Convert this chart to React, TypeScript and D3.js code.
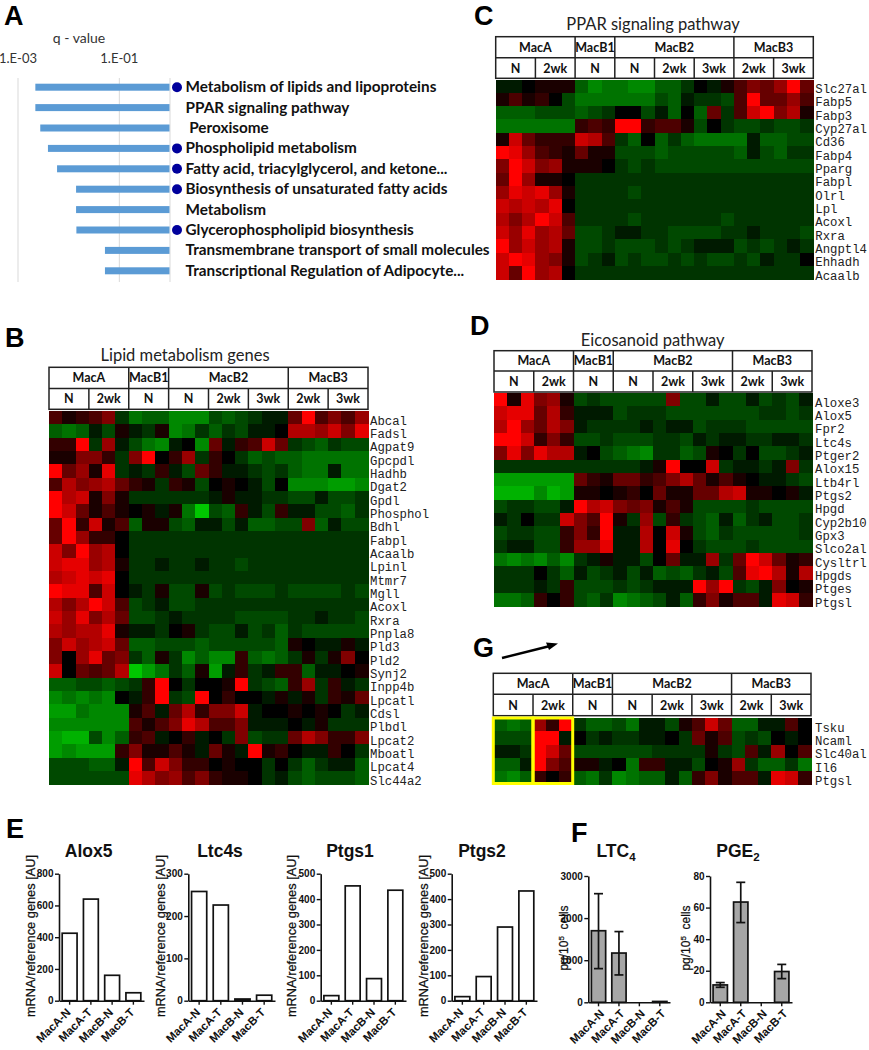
// App.tsx
import React, { useEffect, useRef } from 'react';
import * as d3 from 'd3';

// Panel A
const pathways = [
  'Metabolism of lipids and lipoproteins', 'PPAR signaling pathway', ' Peroxisome',
  'Phospholipid metabolism', 'Fatty acid, triacylglycerol, and ketone...',
  'Biosynthesis of unsaturated fatty acids', 'Metabolism', 'Glycerophospholipid biosynthesis',
  'Transmembrane transport of small molecules', 'Transcriptional Regulation of Adipocyte...',
];
const qValues = [0.0022, 0.0022, 0.00275, 0.0039, 0.0059, 0.014, 0.014, 0.0142, 0.052, 0.052];
const hasDot = [true, false, false, true, true, true, false, true, false, false];

// Heatmap headers
const groupLabels = ['MacA', 'MacB1', 'MacB2', 'MacB3'];
const groupSpans = [6, 3, 9, 6];
const subLabels = ['N', '2wk', 'N', 'N', '2wk', '3wk', '2wk', '3wk'];

// Panel B, log ratios on a -10..10 scale
const lipidGenes = ['Abcal', 'Fadsl', 'Agpat9', 'Gpcpdl', 'Hadhb', 'Dgat2', 'Gpdl', 'Phosphol', 'Bdhl', 'Fabpl', 'Acaalb', 'Lpinl', 'Mtmr7', 'Mgll', 'Acoxl', 'Rxra', 'Pnpla8', 'Pld3', 'Pld2', 'Synj2', 'Inpp4b', 'Lpcatl', 'Cdsl', 'Plbdl', 'Lpcat2', 'Mboatl', 'Lpcat4', 'Slc44a2'];
const lipidValues = [
  [3, 1, 2, 3, 5, -2, -5, -4, -4, -6, -6, -6, -3, -4, -3, -2, -1, -1, 4, 10, 3, 5, 3, 6],
  [-4, -5, -4, -1, -3, 1, -1, -2, 1, -6, -5, -2, -4, -2, -3, -1, -1, 0, 7, 7, 6, 8, 5, 9],
  [2, 2, 10, -2, 6, -1, -3, -5, -6, -1, 0, -6, 4, -1, 2, 3, 8, 4, -2, -3, -4, -2, -3, -3],
  [1, 1, 5, 5, 2, -2, 5, 10, 0, 2, 6, -2, 2, 0, -2, -4, -3, -4, -4, -5, -5, -5, -5, -5],
  [10, 4, 6, 1, 9, -2, -1, -2, 2, -1, -3, 4, 2, -1, -1, -2, -3, -2, -4, -5, -5, -1, -5, -5],
  [3, 7, 5, 6, 7, 4, 2, 1, -2, 2, 1, -3, 0, 1, 0, -1, -3, 0, -6, -6, -6, -7, -7, -6],
  [10, 7, 8, 1, 5, 1, -2, -2, -2, -2, -2, -2, -1, 1, -1, -1, -2, -2, -3, -3, -1, -3, -3, -2],
  [10, 8, 4, 1, 3, 1, 0, 1, -1, 1, -5, -9, -3, -4, 2, -1, -3, 2, -1, -1, -3, -3, -4, -2],
  [4, 10, 2, 8, 1, 3, -4, 1, 1, -3, -4, -1, -1, -3, -1, -4, -4, -3, -3, 5, -4, -1, -3, -3],
  [4, 10, 6, 2, 2, 0, -2, -2, -2, -2, -2, -2, -2, -2, -2, -2, -2, -2, -2, -2, -2, -2, -2, -2],
  [8, 5, 10, 6, 7, 0, -2, -2, -2, -2, -2, -2, -2, -2, -2, -2, -2, -2, -2, -2, -2, -2, -2, -2],
  [8, 9, 9, 6, 7, 1, -2, -2, -1, -2, -2, -1, -2, -2, -3, -2, -2, -2, -2, -2, -2, -2, -2, -2],
  [7, 8, 9, 8, 9, 0, -2, -2, -2, -2, -2, -2, -2, -2, -2, -2, -2, -2, -2, -2, -2, -2, -2, -2],
  [10, 9, 9, 3, 8, 0, -1, -2, 1, -3, -3, 1, -3, -2, -3, -3, -3, -2, -3, -3, -3, -3, -2, -3],
  [7, 5, 7, 10, 8, 3, -3, -2, -1, -3, -3, -2, -2, -2, -2, -2, -2, -2, -2, -2, -2, -2, -2, -2],
  [8, 6, 9, 5, 7, 4, -3, -3, -2, -1, -2, -2, -2, -2, -3, -3, -3, -3, -2, -2, -1, -2, -2, -3],
  [7, 6, 7, 7, 9, 1, -1, -1, -2, 0, 1, -2, -3, -3, -1, -3, -2, -4, -2, -3, -3, -3, -3, -3],
  [5, 8, 6, 7, 8, 4, -4, -4, -3, -3, -3, -4, -3, -3, -3, -3, -3, -4, 1, 0, -1, -1, 1, -1],
  [5, 0, 6, 9, 4, 5, -2, -4, 1, -2, -6, -4, -6, -6, 2, -4, -5, -4, -2, 1, -2, 1, 5, 0],
  [8, 0, 4, 3, 4, 7, -9, -7, -5, -2, -4, 1, -7, -1, 2, -2, -1, 2, 2, -4, -1, -1, 0, 1],
  [-4, -4, -3, -3, -4, -3, -2, 2, 10, 0, -2, 0, 0, 1, 10, -2, -3, -4, 2, 6, -2, 2, -1, -2],
  [-6, -5, -6, -5, -6, 0, -1, 2, 10, -2, -3, 10, 0, 2, 0, 0, -1, 1, -1, 1, -2, 2, 1, 4],
  [-7, -7, -5, -6, -6, -6, 1, 3, -1, 4, 7, 2, 5, 5, 8, -1, 0, 0, 1, 0, 1, 0, -2, -1],
  [-6, -6, -6, -6, -6, -6, 3, 1, 3, 5, 9, 7, 3, 3, 5, -1, -1, -1, 0, -1, 1, -2, -2, -2],
  [-7, -8, -8, -3, -6, -4, 2, 3, -1, 0, 2, -1, 0, -2, 5, -3, -2, -2, 4, 7, 5, 2, 2, 5],
  [-7, -6, -7, -7, -7, 2, 5, 1, 1, 3, 1, -1, 4, 1, -1, 10, 1, 2, 0, -1, -1, 2, 0, -2],
  [-3, -3, -3, -4, -4, -1, 10, 3, 8, 5, 2, 2, 0, 1, 0, 0, -2, 0, -2, -4, -2, -1, -1, -4],
  [-3, -3, -3, -3, -3, -3, 9, 7, 5, 6, 3, 5, 2, 1, 1, 0, -2, -1, -3, -4, -3, -3, -3, -4],
];

// Panel C
const pparGenes = ['Slc27al', 'Fabp5', 'Fabp3', 'Cyp27al', 'Cd36', 'Fabp4', 'Pparg', 'Fabpl', 'Olrl', 'Lpl', 'Acoxl', 'Rxra', 'Angptl4', 'Ehhadh', 'Acaalb'];
const pparValues = [
  [-1, -1, 0, 1, 1, 1, -4, -6, -5, -5, -6, -6, -4, -4, -2, 0, -1, 1, 3, 5, 4, 6, 10, 4],
  [1, 3, 1, 2, 0, -3, -5, -5, -5, -5, -5, -5, -3, -4, -1, -2, -2, -3, 3, 10, 4, 4, 6, 3],
  [-4, -4, -4, -3, -3, -3, -4, -3, -2, 0, 0, -3, -1, -4, 0, -4, 4, -2, 3, 8, 10, 5, 7, 1],
  [-5, -5, -5, -5, -5, -5, 2, 3, 2, 10, 10, 2, 3, 3, 1, -3, 0, -2, -3, -3, -2, -3, -3, -2],
  [1, 8, 4, 2, 2, 2, 8, 7, 3, -2, -4, 0, -4, -2, -4, -5, -5, -5, -5, -1, -4, -4, -3, -3],
  [10, 9, 6, 3, 2, 1, 4, 1, 1, -3, -3, -3, -4, -3, -3, -3, -3, -3, -4, -1, -3, -4, -2, -2],
  [5, 10, 8, 5, 6, 1, 1, 1, 0, -2, -3, -2, -3, -3, -3, -3, -3, -3, -3, -3, -3, -3, -3, -3],
  [4, 10, 6, 1, 1, 0, -2, -2, -2, -2, -2, -2, -2, -2, -2, -2, -2, -2, -2, -2, -2, -2, -2, -2],
  [6, 9, 8, 9, 6, 1, -2, -2, -2, -2, -3, -2, -2, -2, -2, -2, -2, -2, -2, -2, -2, -2, -2, -2],
  [8, 7, 8, 7, 9, 0, -2, -2, -2, -2, -2, -2, -2, -2, -2, -2, -2, -2, -2, -2, -2, -2, -2, -2],
  [7, 5, 7, 10, 8, 3, -2, -2, -2, -2, -3, -2, -2, -2, -2, -2, -2, -3, -2, -2, -2, -2, -2, -2],
  [8, 6, 9, 6, 7, 4, -3, -3, -2, -1, -1, -2, -2, -3, -3, -3, -3, -2, -2, -1, -2, -2, -2, -3],
  [10, 6, 8, 6, 7, 1, -3, -3, -2, -3, -3, -3, -2, -3, -2, -1, -1, -1, -3, -2, -3, -2, -1, -2],
  [8, 10, 9, 6, 5, 1, -3, -2, -1, -3, -2, -3, -3, -2, -3, -2, -3, -3, -2, -3, -1, -2, -2, 0],
  [8, 4, 10, 6, 7, 0, -2, -2, -2, -2, -2, -2, -2, -2, -2, -2, -2, -2, -2, -2, -2, -2, -2, -2],
];

// Panel D
const eicosanoidGenes = ['Aloxe3', 'Alox5', 'Fpr2', 'Ltc4s', 'Ptger2', 'Alox15', 'Ltb4rl', 'Ptgs2', 'Hpgd', 'Cyp2b10', 'Gpx3', 'Slco2al', 'Cysltrl', 'Hpgds', 'Ptges', 'Ptgsl'];
const eicosanoidValues = [
  [10, 1, 9, 5, 6, 1, -3, -2, -3, -3, -3, -3, -3, 5, -3, -3, -1, -3, -3, -1, -3, -2, -3, -1],
  [8, 9, 9, 4, 7, 2, -1, -1, -1, -3, -2, -2, -2, -3, -3, -3, -3, -3, -3, -3, -2, -2, -3, -2],
  [7, 10, 6, 4, 7, 5, -1, -2, -2, -2, -2, -1, -2, -1, -1, -3, -2, -2, -2, -3, -3, -3, -3, -3],
  [10, 10, 8, 2, 5, 2, -3, -3, -2, -3, -3, -3, -2, -2, -3, -1, -2, -1, -1, -2, -2, -1, -1, -2],
  [5, 9, 5, 9, 7, 7, -1, 0, -3, -4, -5, -6, -2, -2, -4, -3, 1, 0, -2, 0, -3, -3, -2, -1],
  [-2, -2, -2, -2, -2, -2, -2, -2, -2, -2, -2, -1, 1, 10, 0, 0, 8, -2, -1, -1, -2, -1, 5, -2],
  [-7, -7, -7, -7, -7, -7, 4, 2, 1, 4, 4, 2, 3, 5, 7, 4, 1, 3, 1, 0, -1, -1, -2, -3],
  [-8, -8, -8, -6, -8, -7, 1, 1, 0, 1, 2, 0, 4, 1, 1, 4, 4, 7, 8, 1, 1, 0, 1, -1],
  [-3, -2, -2, -3, -3, -1, 10, 7, 8, 5, 4, 5, 1, 3, 1, -3, -3, -3, -3, -2, -3, -3, -3, -3],
  [-1, -2, 0, -2, -2, 8, 5, 3, 10, 1, -2, 6, -3, 2, -2, -3, -4, -1, -4, -2, -1, -3, -3, -2],
  [-3, -2, -2, -3, -3, 2, 5, 2, 10, -1, -1, 7, 0, 8, 1, -3, -4, -2, -3, -3, -3, -3, -3, -2],
  [-2, -1, -1, -3, -3, 2, 6, 6, 9, -1, -1, 7, 0, 9, 0, -2, -3, -3, -3, -2, -3, -3, -3, -3],
  [-5, -6, -5, -6, -4, -6, -2, -1, 1, -1, -1, -3, 0, 4, -1, -1, 6, -2, 4, 10, 8, 4, 1, 2],
  [-2, -2, -2, 0, -2, -4, -1, -3, -2, -1, -3, -1, -4, -3, -4, -2, -1, -3, 3, 9, 10, 7, 1, 7],
  [-2, -2, -2, -1, -2, 2, -3, -3, -3, -2, -3, -2, -1, -1, -1, 10, 6, 10, -2, -3, -1, 5, 0, 1],
  [-5, -5, -4, 2, 0, 2, -3, -4, -2, -6, -5, -4, -3, -1, -4, 2, 5, 1, 3, 3, -1, 9, 8, 2],
];

// Panel G
const arrowGenes = ['Tsku', 'Ncaml', 'Slc40al', 'Il6', 'Ptgsl'];
const arrowValues = [
  [-4, -5, -4, 6, 2, 10, -2, -4, -4, -3, -5, -1, -1, -3, 1, 3, 8, 4, -4, -4, -1, -1, 3, 0],
  [-3, -3, -3, 10, 10, -1, 0, -2, -1, -2, -2, -1, -1, 0, -2, 4, 1, 3, -3, -2, -3, 0, -1, 0],
  [-1, -1, -2, 10, 8, 4, -3, -3, -3, -3, -3, -3, -2, -2, -2, -2, 1, -2, -3, 3, -1, 6, 0, 3],
  [-4, -4, -1, 10, 5, 3, 1, 1, -1, 0, -5, 2, 2, -1, -1, -3, 0, 1, 6, -2, -4, -4, -2, -5],
  [-5, -6, -4, 2, 0, 2, -4, -5, -2, -6, -5, -4, -4, -1, -4, 2, 5, 1, 3, 3, -1, 9, 8, 2],
];

// Panels E and F
const barCategories = ['MacA-N', 'MacA-T', 'MacB-N', 'MacB-T'];
const alox5Values = [425, 640, 160, 50];
const ltc4sValues = [258, 226, 4, 13];
const ptgs1Values = [20, 452, 87, 435];
const ptgs2Values = [16, 95, 290, 432];
const ltc4Values = [1700, 1170, 0, 20];
const ltc4Low = [800, 650, 0, 20];
const ltc4High = [2580, 1680, 0, 20];
const pge2Values = [11, 63.5, 0, 19.5];
const pge2Low = [9.5, 50.5, 0, 15];
const pge2High = [12.5, 76, 0, 24];

const CALIBRI = 'Lato, sans-serif';
const ARIAL = '"Liberation Sans", Arial, sans-serif';
// green ramp is steeper near black, the picture has dark greens and few bright ones
const heatColor = d3.scaleLinear<string>().domain([-10, -2, 0, 10]).range(['#00dc00', '#003400', '#000000', '#ff0000']);

type Sel = d3.Selection<SVGSVGElement, unknown, null, undefined>;

function drawPathways(svg: Sel) {
  const x = d3.scaleLog().domain([0.001, 1]).range([18, 170]);
  const y = d3.scaleBand<number>().domain(d3.range(pathways.length)).range([77, 281]);
  const g = svg.append('g');

  [0.001, 0.1, 1].forEach((t) => {
    g.append('line').attr('x1', x(t)).attr('x2', x(t)).attr('y1', 78).attr('y2', 282)
      .attr('stroke', '#d9d9d9').attr('stroke-width', 1);
  });
  g.append('text').text('q - value').attr('x', 79).attr('y', 43).attr('text-anchor', 'middle')
    .attr('font-family', CALIBRI).attr('font-size', 14).attr('fill', '#333');
  [['1.E-03', 0.001], ['1.E-01', 0.1]].forEach(([label, t]) => {
    g.append('text').text(label as string).attr('x', x(t as number)).attr('y', 63).attr('text-anchor', 'middle')
      .attr('font-family', CALIBRI).attr('font-size', 13).attr('fill', '#333');
  });

  pathways.forEach((name, i) => {
    const cy = y(i)! + y.bandwidth() / 2;
    g.append('rect').attr('x', x(qValues[i])).attr('width', 169.5 - x(qValues[i]))
      .attr('y', cy - 3.5).attr('height', 7).attr('fill', '#5b9bd5');
    if (hasDot[i]) {
      g.append('circle').attr('cx', 177).attr('cy', cy).attr('r', 5).attr('fill', '#00009c');
    }
    g.append('text').text(name).attr('x', 185.5).attr('y', cy + 5).attr('xml:space', 'preserve')
      .attr('font-family', CALIBRI).attr('font-weight', 700).attr('font-size', 15.3).attr('fill', '#111');
  });
}

type HeatOpts = {
  x0: number; x1: number; headY: number[]; top: number; title?: string; titleX?: number; titleY?: number;
  genes: string[]; values: number[][]; gap: number;
};

function drawHeatmap(svg: Sel, o: HeatOpts) {
  const g = svg.append('g');
  const x = d3.scaleBand<number>().domain(d3.range(24)).range([o.x0, o.x1]);
  const y = d3.scaleBand<number>().domain(d3.range(o.genes.length)).range([o.top, o.top + o.genes.length * 13.33]);

  if (o.title) {
    g.append('text').text(o.title).attr('x', o.titleX!).attr('y', o.titleY!).attr('text-anchor', 'middle')
      .attr('font-family', CALIBRI).attr('font-size', 16.5).attr('fill', '#222');
  }

  // two header rows
  const [h0, h1, h2] = o.headY;
  g.append('rect').attr('x', o.x0).attr('y', h0).attr('width', o.x1 - o.x0).attr('height', h2 - h0)
    .attr('fill', '#fff').attr('stroke', '#222').attr('stroke-width', 1.5);
  g.append('line').attr('x1', o.x0).attr('x2', o.x1).attr('y1', h1).attr('y2', h1).attr('stroke', '#222').attr('stroke-width', 1.5);

  let col = 0;
  groupLabels.forEach((label, i) => {
    const left = x(col)!;
    const right = left + groupSpans[i] * x.step();
    if (col > 0) g.append('line').attr('x1', left).attr('x2', left).attr('y1', h0).attr('y2', h1).attr('stroke', '#222').attr('stroke-width', 1.5);
    g.append('text').text(label).attr('x', (left + right) / 2).attr('y', (h0 + h1) / 2 + 4.5).attr('text-anchor', 'middle')
      .attr('font-family', CALIBRI).attr('font-weight', 700).attr('font-size', 12.5).attr('fill', '#111');
    col += groupSpans[i];
  });
  subLabels.forEach((label, i) => {
    const left = x(i * 3)!;
    if (i > 0) g.append('line').attr('x1', left).attr('x2', left).attr('y1', h1).attr('y2', h2).attr('stroke', '#222').attr('stroke-width', 1.5);
    g.append('text').text(label).attr('x', left + 1.5 * x.step()).attr('y', (h1 + h2) / 2 + 4.5).attr('text-anchor', 'middle')
      .attr('font-family', CALIBRI).attr('font-weight', 700).attr('font-size', 12.5).attr('fill', '#111');
  });

  // cells
  o.values.forEach((row, r) => {
    row.forEach((v, c) => {
      g.append('rect').attr('x', x(c)!).attr('y', y(r)!).attr('width', x.bandwidth() + 0.5).attr('height', y.bandwidth() + 0.5)
        .attr('fill', heatColor(v)).attr('shape-rendering', 'crispEdges');
    });
  });

  o.genes.forEach((gene, r) => {
    g.append('text').text(gene).attr('x', o.x1 + o.gap).attr('y', y(r)! + y.bandwidth() / 2 + 7)
      .attr('font-family', '"Liberation Mono", monospace').attr('font-size', 12.3).attr('fill', '#222');
  });
}

type BarOpts = {
  x0: number; x1: number; y0: number; yTop: number; max: number; ticks: number[];
  title: string; sub?: string; titleX: number; values: number[]; low?: number[]; high?: number[]; fill: string;
  yLabelX: number;
};

function drawBars(svg: Sel, o: BarOpts) {
  const g = svg.append('g');
  const x = d3.scaleBand<string>().domain(barCategories).range([o.x0, o.x1]).paddingInner(0.3).paddingOuter(0.15);
  const y = d3.scaleLinear().domain([0, o.max]).range([o.y0, o.yTop]);

  barCategories.forEach((cat, i) => {
    if (o.values[i] > 0) {
      g.append('rect').attr('x', x(cat)!).attr('width', x.bandwidth()).attr('y', y(o.values[i]))
        .attr('height', o.y0 - y(o.values[i])).attr('fill', o.fill).attr('stroke', '#111').attr('stroke-width', 1.7);
    }
    if (o.low && o.high && o.high[i] > o.low[i]) {
      const cx = x(cat)! + x.bandwidth() / 2;
      g.append('line').attr('x1', cx).attr('x2', cx).attr('y1', y(o.low[i])).attr('y2', y(o.high[i])).attr('stroke', '#111').attr('stroke-width', 1.7);
      [o.low[i], o.high[i]].forEach((v) => {
        g.append('line').attr('x1', cx - 4.5).attr('x2', cx + 4.5).attr('y1', y(v)).attr('y2', y(v)).attr('stroke', '#111').attr('stroke-width', 1.7);
      });
    }
  });

  const yAxis = g.append('g').attr('transform', `translate(${o.x0},0)`)
    .call(d3.axisLeft(y).tickValues(o.ticks).tickSize(4).tickPadding(1.5).tickSizeOuter(0).tickFormat(d3.format('d') as any));
  const xAxis = g.append('g').attr('transform', `translate(0,${o.y0})`)
    .call(d3.axisBottom(x).tickSize(4).tickSizeOuter(0).tickPadding(3));
  [yAxis, xAxis].forEach((a) => {
    a.selectAll('path').attr('stroke', '#111').attr('stroke-width', 1.6);
    a.selectAll('line').attr('stroke', '#111').attr('stroke-width', 1.4);
    a.selectAll('text').attr('font-family', ARIAL).attr('font-weight', 700).attr('fill', '#111');
  });
  yAxis.selectAll('text').attr('font-size', 10);
  // panel F labels sit lower than panel E ones
  xAxis.selectAll('text').attr('font-size', 11.5).attr('text-anchor', 'end')
    .attr('dx', o.low ? '-4px' : '-7.5px').attr('dy', o.low ? '6px' : '3px')
    .attr('transform', 'rotate(-45)');

  const t = g.append('text').attr('x', o.titleX).attr('y', 857).attr('text-anchor', 'middle')
    .attr('font-family', ARIAL).attr('font-weight', 700).attr('font-size', 17.5).attr('fill', '#111').text(o.title);
  if (o.sub) t.append('tspan').text(o.sub).attr('dy', 4).attr('font-size', 11.5);

  if (!o.low) {
    g.append('text').text('mRNA/reference genes [AU]').attr('transform', `translate(${o.yLabelX},936) rotate(-90)`)
      .attr('text-anchor', 'middle').attr('font-family', ARIAL).attr('font-size', 12.8).attr('fill', '#111')
      .attr('stroke', '#111').attr('stroke-width', 0.25);
  } else {
    const l = g.append('text').attr('transform', `translate(${o.yLabelX},938) rotate(-90)`)
      .attr('text-anchor', 'middle').attr('font-family', ARIAL).attr('font-size', 12).attr('fill', '#111')
      .attr('stroke', '#111').attr('stroke-width', 0.25).text('pg/10');
    l.append('tspan').text('5').attr('dy', -4).attr('font-size', 8);
    l.append('tspan').text('  cells').attr('dy', 4).attr('xml:space', 'preserve');
  }
}

function App() {
  const ref = useRef<SVGSVGElement>(null);

  useEffect(() => {
    const svg = d3.select(ref.current!) as unknown as Sel;
    svg.selectAll('*').remove();

    [['A', 4, 24.5], ['B', 5, 347], ['C', 474, 24.5], ['D', 470, 335], ['G', 473, 657], ['E', 6, 838], ['F', 571, 842]].forEach(([l, x, y]) => {
      svg.append('text').text(l as string).attr('x', x as number).attr('y', y as number)
        .attr('font-family', ARIAL).attr('font-weight', 700).attr('font-size', 27).attr('fill', '#000');
    });

    drawPathways(svg);
    drawHeatmap(svg, { x0: 49, x1: 368, headY: [367.3, 388.5, 409.3], top: 411, title: 'Lipid metabolism genes', titleX: 185, titleY: 361, genes: lipidGenes, values: lipidValues, gap: 2 });
    drawHeatmap(svg, { x0: 495.7, x1: 813.3, headY: [36.7, 57.7, 78.3], top: 79.5, title: 'PPAR signaling pathway', titleX: 653, titleY: 30, genes: pparGenes, values: pparValues, gap: 2 });
    drawHeatmap(svg, { x0: 494, x1: 812, headY: [350.7, 371, 392], top: 393, title: 'Eicosanoid pathway', titleX: 652.7, titleY: 346, genes: eicosanoidGenes, values: eicosanoidValues, gap: 3 });
    drawHeatmap(svg, { x0: 493.3, x1: 811, headY: [673.3, 694.3, 715.7], top: 718, genes: arrowGenes, values: arrowValues, gap: 4 });

    // yellow boxes and arrow of panel G
    [493.3, 533].forEach((bx) => {
      svg.append('rect').attr('x', bx).attr('y', 718).attr('width', 39.7).attr('height', 65.5)
        .attr('fill', 'none').attr('stroke', '#ffff00').attr('stroke-width', 3);
    });
    svg.append('line').attr('x1', 502).attr('y1', 658).attr('x2', 550).attr('y2', 646).attr('stroke', '#000').attr('stroke-width', 2.4);
    svg.append('path').attr('d', 'M558,643.5 L546,642.5 L549,650 Z').attr('fill', '#000');

    const geneTicks500 = [0, 100, 200, 300, 400, 500];
    const common = { y0: 1000.7, yTop: 873.7, fill: '#fff' };
    drawBars(svg, { ...common, x0: 59, x1: 144, max: 800, ticks: [0, 200, 400, 600, 800], title: 'Alox5', titleX: 88.7, values: alox5Values, yLabelX: 35 });
    drawBars(svg, { ...common, x0: 188.3, x1: 275, max: 300, ticks: [0, 100, 200, 300], title: 'Ltc4s', titleX: 220, values: ltc4sValues, yLabelX: 165 });
    drawBars(svg, { ...common, x0: 320.7, x1: 406, max: 500, ticks: geneTicks500, title: 'Ptgs1', titleX: 350, values: ptgs1Values, yLabelX: 296 });
    drawBars(svg, { ...common, x0: 451.7, x1: 537, max: 500, ticks: geneTicks500, title: 'Ptgs2', titleX: 482, values: ptgs2Values, yLabelX: 428 });
    drawBars(svg, { y0: 1002.3, yTop: 876, fill: '#a6a6a6', x0: 588.3, x1: 670, max: 3000, ticks: [0, 1000, 2000, 3000], title: 'LTC', sub: '4', titleX: 616, values: ltc4Values, low: ltc4Low, high: ltc4High, yLabelX: 568 });
    drawBars(svg, { y0: 1002.3, yTop: 876, fill: '#a6a6a6', x0: 710, x1: 792, max: 80, ticks: [0, 20, 40, 60, 80], title: 'PGE', sub: '2', titleX: 738, values: pge2Values, low: pge2Low, high: pge2High, yLabelX: 690 });
  }, []);

  return <svg ref={ref} width={869} height={1050} style={{ position: 'absolute', left: 0, top: 0, background: '#fff' }} />;
}

export default App;
